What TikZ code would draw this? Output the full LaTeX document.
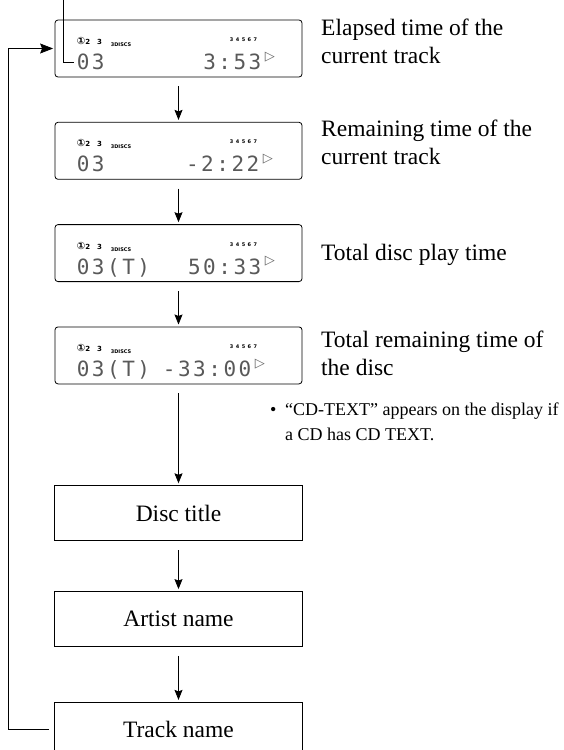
\documentclass[tikz,border=0pt]{standalone}
\usepackage{fontspec}
\setmainfont{Liberation Serif}
\newfontfamily\lcdfont[LetterSpace=12]{DejaVu Sans Mono}
\newfontfamily\symfont{DejaVu Sans}
\usetikzlibrary{positioning,calc,arrows.meta}
\tikzset{
  display/.style={
    draw,
    line width=0.8pt,
    rounded corners=3pt,
    minimum width=247pt,
    minimum height=57pt,
    inner sep=0pt
  },
  field/.style={
    draw,
    line width=0.8pt,
    minimum width=248pt,
    minimum height=55pt,
    inner sep=0pt,
    font=\fontsize{23.5}{28}\selectfont
  },
  caption/.style={
    anchor=base west,
    align=left,
    inner sep=0pt,
    font=\fontsize{23.5}{28}\selectfont
  },
  note/.style={
    anchor=base west,
    align=left,
    inner sep=0pt,
    font=\fontsize{18}{25}\selectfont
  },
  digits/.style={
    inner sep=0pt,
    text=black!65,
    font=\lcdfont\fontsize{21}{21}\selectfont
  },
  discs/.style={
    inner sep=0pt,
    anchor=base west,
    font=\symfont\bfseries\fontsize{7}{7}\selectfont
  },
  tracks/.style={
    inner sep=0pt,
    anchor=base west,
    font=\symfont\bfseries\fontsize{5}{5}\selectfont
  },
  playmark/.style={
    inner sep=0pt,
    anchor=north west,
    text=black!60,
    font=\symfont\fontsize{13}{13}\selectfont
  },
  advance/.style={
    -{Stealth[length=10pt,width=8pt,inset=1.5pt]},
    line width=0.8pt,
    shorten <=9pt,
    shorten >=2pt
  },
  loopback/.style={
    -{Stealth[length=13pt,width=10pt,inset=2pt]},
    line width=0.8pt,
    shorten >=1.5pt
  },
  leader/.style={
    line width=0.8pt
  }
}

\begin{document}
\begin{tikzpicture}[x=1pt,y=-1pt,node distance=44.5pt]

\useasboundingbox (0,0) rectangle (564,750);
\clip (0,0) rectangle (564,750);

% displays
\node[display] (elapsed) at (178.5,48.5) {};
\node[display, below=of elapsed] (remain) {};
\node[display, below=of remain] (total) {};
\node[display, below=of total] (totalrem) {};

% text fields
\node[field, below=101pt of totalrem] (disctitle) {Disc title};
\node[field, below=50pt of disctitle] (artist) {Artist name};
\node[field, below=55pt of artist] (trackname) {Track name};

% display 1
\node[discs] at ($(elapsed.north west)+(22,25)$) {{\fontsize{10}{10}\selectfont ①}2\enspace\enspace 3};
\node[tracks] at ($(elapsed.north west)+(56,27)$) {3DISCS};
\node[tracks] at ($(elapsed.north west)+(175,22)$) {3\enspace 4\enspace 5\enspace 6\enspace 7};
\node[digits, anchor=base west] (elapsedl) at ($(elapsed.north west)+(22,50)$) {03};
\node[digits, anchor=base east] (elapsedr) at ($(elapsed.north west)+(207,50)$) {3:53};
\node[playmark] at ($(elapsedr.north east)+(3,-2)$) {▷};

% display 2
\node[discs] at ($(remain.north west)+(22,25)$) {{\fontsize{10}{10}\selectfont ①}2\enspace\enspace 3};
\node[tracks] at ($(remain.north west)+(56,27)$) {3DISCS};
\node[tracks] at ($(remain.north west)+(175,22)$) {3\enspace 4\enspace 5\enspace 6\enspace 7};
\node[digits, anchor=base west] (remainl) at ($(remain.north west)+(22,50)$) {03};
\node[digits, anchor=base east] (remainr) at ($(remain.north west)+(205,50)$) {-2:22};
\node[playmark] at ($(remainr.north east)+(3,-2)$) {▷};

% display 3
\node[discs] at ($(total.north west)+(22,25)$) {{\fontsize{10}{10}\selectfont ①}2\enspace\enspace 3};
\node[tracks] at ($(total.north west)+(56,27)$) {3DISCS};
\node[tracks] at ($(total.north west)+(175,22)$) {3\enspace 4\enspace 5\enspace 6\enspace 7};
\node[digits, anchor=base west] (totall) at ($(total.north west)+(22,50)$) {03(T)};
\node[digits, anchor=base east] (totalr) at ($(total.north west)+(207,50)$) {50:33};
\node[playmark] at ($(totalr.north east)+(3,-2)$) {▷};

% display 4
\node[discs] at ($(totalrem.north west)+(22,25)$) {{\fontsize{10}{10}\selectfont ①}2\enspace\enspace 3};
\node[tracks] at ($(totalrem.north west)+(56,27)$) {3DISCS};
\node[tracks] at ($(totalrem.north west)+(175,22)$) {3\enspace 4\enspace 5\enspace 6\enspace 7};
\node[digits, anchor=base west] (totalreml) at ($(totalrem.north west)+(22,50)$) {03(T)};
\node[digits, anchor=base east] (totalremr) at ($(totalrem.north west)+(197,50)$) {-33:00};
\node[playmark] at ($(totalremr.north east)+(3,-2)$) {▷};

% captions (base = last line)
\node[caption] (elapsedcap) at (321,63) {Elapsed time of the\\current track};
\node[caption] (remaincap) at (321,164) {Remaining time of the\\current track};
\node[caption] (totalcap) at (321,260) {Total disc play time};
\node[caption] (totalremcap) at (321,375) {Total remaining time of\\the disc};

% note
\node[note] (bullet) at (270,415) {•};
\node[note] (cdtext) at (285,440) {“CD-TEXT” appears on the display if\\a CD has CD TEXT.};

% pointer to track number
\coordinate (pointer) at (63,0);
\draw[leader] (pointer) |- ([xshift=-3pt]elapsedl.west);

\draw[advance] (elapsed) -- (remain);
\draw[advance] (remain) -- (total);
\draw[advance] (total) -- (totalrem);
\draw[advance] (totalrem) -- (disctitle);
\draw[advance] (disctitle) -- (artist);
\draw[advance] (artist) -- (trackname);
\draw[loopback] ([xshift=-5pt]trackname.west) -- ++(-40.5,0) |- (elapsed.west);

\end{tikzpicture}
\end{document}
